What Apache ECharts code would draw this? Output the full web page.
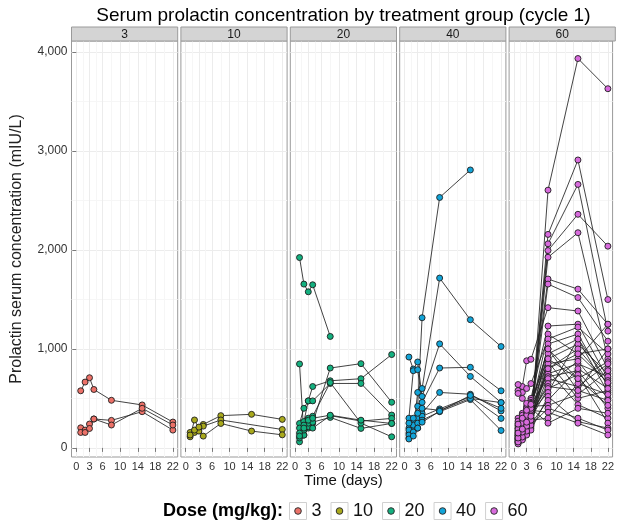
<!DOCTYPE html>
<html>
<head>
<meta charset="utf-8">
<script src="https://cdn.jsdelivr.net/npm/echarts@6/dist/echarts.min.js"></script>
<style>
html,body{margin:0;padding:0;background:#fff;}
#chart{width:617px;height:527px;}
</style>
</head>
<body>
<div id="chart"></div>
<script>
// ---- data ----
const days = [1, 2, 3, 4, 8, 15, 22];
const doseLabels = ['3', '10', '20', '40', '60'];
const xTicks = [0, 3, 6, 10, 14, 18, 22];
const xMinor = [1.5, 4.5, 8, 12, 16, 20];
const yTicks = [0, 1000, 2000, 3000, 4000];
const yMinor = [500, 1500, 2500, 3500];

// each row = one patient, values at days[] (null = not sampled)
const dose3 = [
  [577, 665, 709, 590, 481, 434, 261],
  [203, 180, 241, 292, 278, 366, 180],
  [156, 156, 196, 292, 231, 400, 231]
];
const dose10 = [
  [112, 282, 196, 237, 326, 339, 288],
  [156, 156, 170, 220, 282, null, 186],
  [130, 180, 210, 119, 247, 170, 132]
];
const dose20 = [
  [1923, 1655, 1577, 1648, 1126, null, null],
  [848, 130, 200, 250, 807, 851, 461],
  [247, 400, 475, 620, 678, 699, 943],
  [200, 266, 475, 475, 651, 651, 332],
  [61, 129, 214, 200, 326, 271, 298],
  [100, 180, 250, 260, 308, 197, 247],
  [150, 230, 300, 320, 660, 250, 112],
  [120, 200, 280, 300, 330, 280, 247]
];
const dose40 = [
  [150, 260, 420, 1315, 2530, 2808, null],
  [100, 180, 560, 600, 1716, 1295, 1024],
  [918, 797, 868, 520, 1051, 722, 458],
  [300, 780, 790, 460, 807, 814, 577],
  [200, 250, 300, 350, 560, 542, 373],
  [180, 230, 250, 320, 394, 516, 298],
  [130, 160, 200, 280, 366, 488, 176],
  [250, 300, 350, 400, 380, 500, 458],
  [90, 120, 200, 260, 370, 530, 400]
];
const dose60 = [
  [60, 100, 150, 200, 2604, 3934, 3629],
  [120, 180, 250, 300, 2157, 2909, 1499],
  [90, 150, 220, 280, 2062, 2662, 1180],
  [150, 200, 300, 350, 1994, 2360, 2038],
  [80, 130, 200, 260, 1926, 2174, 900],
  [200, 260, 350, 400, 1706, 1604, 1248],
  [100, 160, 230, 300, 1655, 1519, 1078],
  [580, 620, 880, 895, 1417, 1383, 800],
  [250, 300, 400, 500, 1231, 1250, 700],
  [130, 200, 300, 380, 1150, 950, 1000],
  [640, 560, 600, 650, 1100, 1220, 950],
  [70, 110, 180, 250, 1050, 1150, 620],
  [180, 240, 320, 420, 1000, 700, 870],
  [110, 170, 260, 350, 950, 1100, 560],
  [300, 350, 420, 480, 900, 1048, 750],
  [50, 90, 150, 220, 870, 500, 580],
  [220, 280, 380, 460, 850, 900, 1250],
  [140, 210, 290, 370, 800, 1000, 650],
  [60, 120, 200, 300, 780, 437, 300],
  [160, 230, 310, 400, 750, 850, 720],
  [90, 140, 210, 280, 720, 780, 400],
  [270, 330, 400, 450, 700, 620, 850],
  [120, 180, 260, 330, 650, 875, 500],
  [200, 250, 300, 350, 620, 580, 480],
  [80, 150, 230, 300, 600, 740, 250],
  [170, 220, 290, 360, 560, 1100, 680],
  [40, 80, 130, 180, 520, 265, 200],
  [100, 150, 200, 240, 480, 800, 600],
  [230, 290, 350, 420, 430, 540, 780],
  [60, 110, 170, 230, 400, 300, 180],
  [190, 250, 330, 380, 360, 250, 130],
  [130, 170, 230, 280, 300, 650, 540],
  [550, 500, 450, 400, 250, 400, 350],
  [100, 160, 220, 280, 900, 700, 430],
  [240, 300, 380, 440, 1000, 580, 1000],
  [150, 190, 260, 320, 800, 950, 660]
];
const groups = [dose3, dose10, dose20, dose40, dose60];

// ---- styling / layout ----
const doseColors = ['#EC7168', '#A9A91C', '#13B07F', '#12A4D8', '#D86BDD'];
const FONT = '"Liberation Sans", Arial, Helvetica, sans-serif';
const P_LEFT = 71.5, P_W = 106.2, P_GAP = 3.2, P_TOP = 41, P_H = 416;
const X_MIN = -1.1, X_MAX = 23.1, Y_MIN = -92, Y_MAX = 4111;

const grids = [], xAxes = [], yAxes = [], series = [], graphics = [];
const nG = groups.length;

for (let g = 0; g < nG; g++) {
  const left = P_LEFT + g * (P_W + P_GAP);
  grids.push({left: left, top: P_TOP, width: P_W, height: P_H, show: true,
    backgroundColor: '#fff', borderColor: '#9a9a9a', borderWidth: 1});
  // strip header
  graphics.push({type: 'rect', shape: {x: left, y: 27, width: P_W, height: P_TOP - 27},
    style: {fill: '#d4d4d4', stroke: '#9a9a9a', lineWidth: 1}, z: 10});
  graphics.push({type: 'text', x: left + P_W / 2, y: 34.5,
    style: {text: doseLabels[g], font: '12px ' + FONT, fill: '#1a1a1a',
      textAlign: 'center', textVerticalAlign: 'middle'}, z: 11});
}
// main x axes
for (let g = 0; g < nG; g++) {
  xAxes.push({gridIndex: g, type: 'value', min: X_MIN, max: X_MAX, position: 'bottom',
    axisLine: {show: false},
    axisTick: {show: true, customValues: xTicks, length: 4, lineStyle: {color: '#7a7a7a'}},
    axisLabel: {show: true, customValues: xTicks, fontSize: 11, color: '#333', margin: 4, fontFamily: FONT},
    splitLine: {show: true, lineStyle: {color: '#ececec', width: 1}}});
}
// minor x axes
for (let g = 0; g < nG; g++) {
  xAxes.push({gridIndex: g, type: 'value', min: X_MIN, max: X_MAX, position: 'bottom',
    axisLine: {show: false}, axisTick: {show: false, customValues: xMinor},
    axisLabel: {show: false},
    splitLine: {show: true, lineStyle: {color: '#f6f6f6', width: 1}}});
}
// main y axes
for (let g = 0; g < nG; g++) {
  yAxes.push({gridIndex: g, type: 'value', min: Y_MIN, max: Y_MAX, position: 'left',
    axisLine: {show: false},
    axisTick: {show: g === 0, customValues: yTicks, length: 4, lineStyle: {color: '#7a7a7a'}},
    axisLabel: {show: g === 0, customValues: yTicks, fontSize: 12, color: '#333', margin: 4, fontFamily: FONT,
      formatter: v => Number(v).toLocaleString('en-US')},
    name: g === 0 ? 'Prolactin serum concentration (mIU/L)' : '',
    nameLocation: 'middle', nameGap: 47,
    nameTextStyle: {fontSize: 16, color: '#222', fontFamily: FONT},
    splitLine: {show: true, lineStyle: {color: '#ececec', width: 1}}});
}
// minor y axes
for (let g = 0; g < nG; g++) {
  yAxes.push({gridIndex: g, type: 'value', min: Y_MIN, max: Y_MAX, position: 'left',
    axisLine: {show: false}, axisTick: {show: false, customValues: yMinor},
    axisLabel: {show: false},
    splitLine: {show: true, lineStyle: {color: '#f6f6f6', width: 1}}});
}

// series
for (let g = 0; g < nG; g++) {
  const pts = [];
  groups[g].forEach((subj, si) => {
    const d = [];
    subj.forEach((v, k) => { if (v !== null) { d.push([days[k], v]); pts.push([days[k], v]); } });
    series.push({type: 'line', name: 'subj' + g + '_' + si, xAxisIndex: g, yAxisIndex: g,
      data: d, showSymbol: false, symbol: 'none', silent: true, z: 2,
      lineStyle: {color: '#222', width: 1, opacity: 0.85}});
  });
  series.push({type: 'scatter', name: doseLabels[g], xAxisIndex: g, yAxisIndex: g,
    data: pts, symbolSize: 6, z: 3, silent: true,
    itemStyle: {color: doseColors[g], borderColor: '#1e1e1e', borderWidth: 0.9, opacity: 1}});
}

// text decorations
const panelsCenter = P_LEFT + (nG * P_W + (nG - 1) * P_GAP) / 2;
graphics.push({type: 'text', x: panelsCenter, y: 16,
  style: {text: 'Serum prolactin concentration by treatment group (cycle 1)',
    font: '19px ' + FONT, fill: '#000', textAlign: 'center', textVerticalAlign: 'middle'}, z: 11});
graphics.push({type: 'text', x: panelsCenter, y: 481,
  style: {text: 'Time (days)', font: '15px ' + FONT, fill: '#111', textAlign: 'center', textVerticalAlign: 'middle'}, z: 11});
graphics.push({type: 'text', x: 283, y: 511,
  style: {text: 'Dose (mg/kg):', font: 'bold 18px ' + FONT, fill: '#000', textAlign: 'right', textVerticalAlign: 'middle'}, z: 11});

// legend: key boxes (underneath) + dots with labels (on top), identical geometry
const keyDot = 'path://M0 0M17 17M11.8 8.5A3.3 3.3 0 1 1 5.2 8.5A3.3 3.3 0 1 1 11.8 8.5Z';
const legendBase = {orient: 'horizontal', left: 289, top: 502, itemWidth: 17, itemHeight: 17,
  itemGap: 9, selectedMode: false, padding: 0, symbolKeepAspect: true};
const legends = [
  Object.assign({}, legendBase, {icon: 'rect', z: 4,
    textStyle: {fontSize: 18, color: 'rgba(0,0,0,0)', fontFamily: FONT},
    data: doseLabels.map(n => ({name: n, itemStyle: {color: '#fff', borderColor: '#d0d0d0', borderWidth: 1}}))}),
  Object.assign({}, legendBase, {icon: keyDot, z: 5,
    textStyle: {fontSize: 18, color: '#111', fontFamily: FONT},
    data: doseLabels.map((n, i) => ({name: n, itemStyle: {color: doseColors[i], borderColor: '#333', borderWidth: 1}}))})
];

const chart = echarts.init(document.getElementById('chart'), null, {renderer: 'canvas'});
chart.setOption({
  animation: false,
  backgroundColor: '#fff',
  grid: grids, xAxis: xAxes, yAxis: yAxes, series: series,
  legend: legends, graphic: graphics
});
</script>
</body>
</html>
